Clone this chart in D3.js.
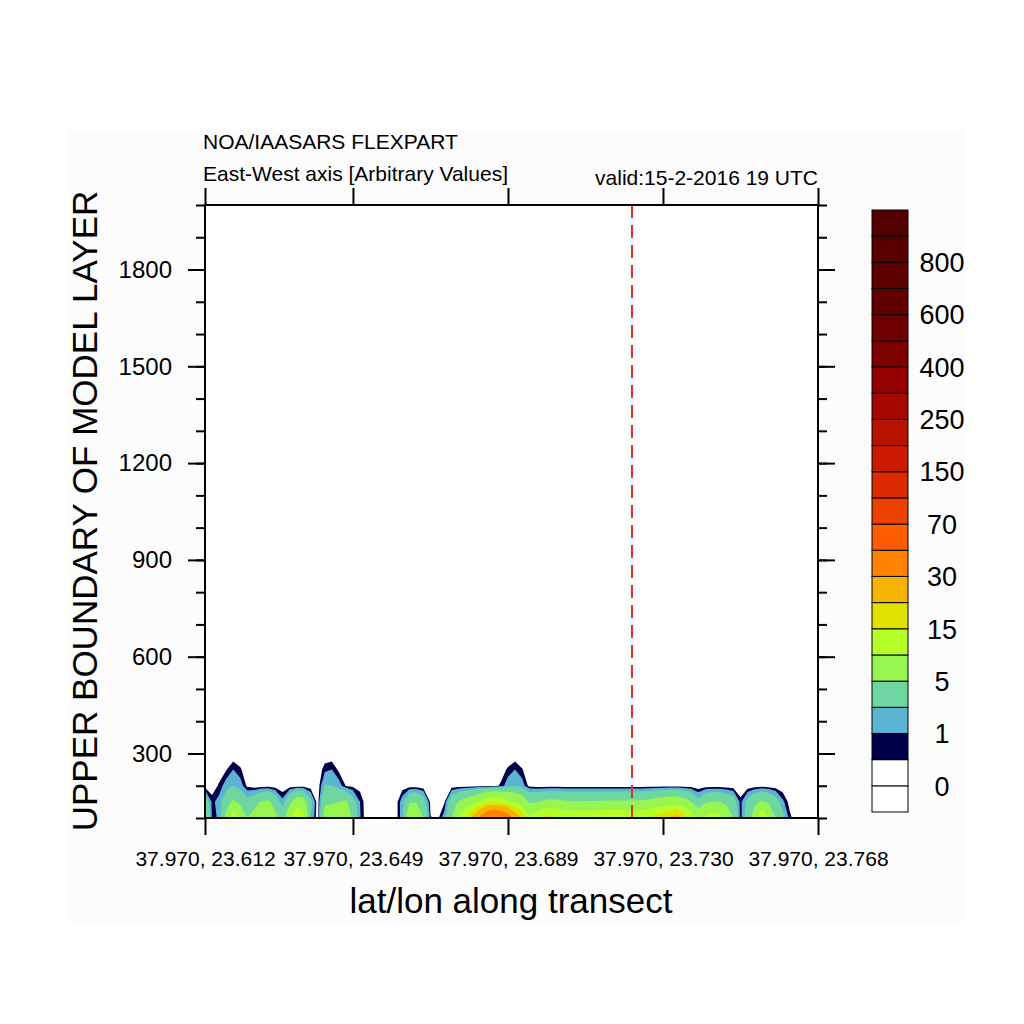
<!DOCTYPE html>
<html>
<head>
<meta charset="utf-8">
<script src="https://cdn.jsdelivr.net/npm/d3@7"></script>
<style>
  body { margin: 0; background: #ffffff; }
  text { font-family: "Liberation Sans", Arial, Helvetica, sans-serif; fill: #000; }
</style>
</head>
<body>
<div class="chart"></div>
<script>
// model layer heights (rows of the grid)
var heights = [100, 150, 200, 250, 300];

// concentration along the transect (88 points), one array per layer
var conc100 = [5, 0.9, 1.05, 6, 13.5, 10, 5, 7, 9, 9.5,
  6, 3.5, 9, 16.3, 12, 2, 0, 7, 8, 8,
  10, 4, 1.1, 0, 0, 0, 0, 0, 1.5, 10,
  10.5, 5, 0.55, 0.3, 1.5, 5, 11, 15, 22, 32,
  42, 48, 44, 38, 26, 20, 11, 13, 16, 17,
  15.5, 14, 13.5, 13.5, 14, 14, 14.5, 14.5, 14.8, 14.8,
  14.5, 14, 14, 15, 17, 19, 21, 23, 18, 13,
  9, 11, 12, 11.5, 9, 5, 0.6, 3, 7, 15.5,
  10, 5, 2.5, 0.7, 0, 0, 0, 0];
var conc150 = [3.5, 0.8, 1.3, 3.5, 5.6, 4, 2.6, 3.5, 5.2, 5.5,
  3.5, 1.3, 4, 7.3, 6.5, 2.5, 0, 4.5, 4.5, 5,
  5.5, 2.8, 1.0, 0, 0, 0, 0, 0, 1.5, 4.5,
  4.8, 3, 0.3, 0, 0.45, 3.5, 5.3, 6.5, 8, 10,
  13, 14, 13, 11, 9, 7.5, 4.6, 4.8, 5.5, 6,
  5.8, 5.5, 5.2, 5.2, 5.3, 5.3, 5.4, 5.5, 5.5, 5.5,
  5.5, 5.5, 5.6, 6, 6.5, 7, 7.5, 7.5, 6.5, 5,
  2.5, 4.5, 5, 5, 4, 3, 0.7, 2.5, 4.2, 5.5,
  4.5, 3, 1.2, 0.2, 0, 0, 0, 0];
var conc200 = [0.1, 0.1, 0.6, 1.4, 2.0, 1.4, 0.35, 0.1, 0.1, 0.15,
  0.05, 0, 0.05, 0.1, 0.1, 0.05, 0, 2.1, 2.0, 1.4,
  0.45, 0.3, 0.2, 0, 0, 0, 0, 0, 0.1, 0.05,
  0.05, 0, 0, 0, 0, 0.05, 0.1, 0.1, 0.15, 0.2,
  0.25, 0.3, 0.6, 1.5, 2.0, 1.4, 0.3, 0.1, 0.1, 0.1,
  0.1, 0.1, 0.1, 0.1, 0.1, 0.1, 0.1, 0.1, 0.1, 0.1,
  0.1, 0.1, 0.1, 0.1, 0.1, 0.15, 0.2, 0.2, 0.15, 0.1,
  0, 0.05, 0.1, 0.1, 0.05, 0.05, 0, 0.05, 0.1, 0.15,
  0.1, 0.05, 0, 0, 0, 0, 0, 0];
var conc250 = [0, 0, 0.1, 0.45, 1.0, 0.6, 0.05, 0, 0, 0,
  0, 0, 0, 0, 0, 0, 0, 0.8, 1.0, 0.35,
  0, 0, 0, 0, 0, 0, 0, 0, 0, 0,
  0, 0, 0, 0, 0, 0, 0, 0, 0, 0,
  0, 0, 0.2, 0.6, 1.0, 0.55, 0.05, 0, 0, 0,
  0, 0, 0, 0, 0, 0, 0, 0, 0, 0,
  0, 0, 0, 0, 0, 0, 0, 0, 0, 0,
  0, 0, 0, 0, 0, 0, 0, 0, 0, 0,
  0, 0, 0, 0, 0, 0, 0, 0];
var conc300 = [0, 0, 0, 0, 0, 0, 0, 0, 0, 0,
  0, 0, 0, 0, 0, 0, 0, 0, 0, 0,
  0, 0, 0, 0, 0, 0, 0, 0, 0, 0,
  0, 0, 0, 0, 0, 0, 0, 0, 0, 0,
  0, 0, 0, 0, 0, 0, 0, 0, 0, 0,
  0, 0, 0, 0, 0, 0, 0, 0, 0, 0,
  0, 0, 0, 0, 0, 0, 0, 0, 0, 0,
  0, 0, 0, 0, 0, 0, 0, 0, 0, 0,
  0, 0, 0, 0, 0, 0, 0, 0];

// contour levels and fill colours (colours[k] = box below levels[k], last = above top)
var levels = [0, 0.5, 1, 2, 5, 10, 15, 20, 30, 50, 70, 100, 150, 200, 250, 300, 400, 500, 600, 700, 800, 900];
var colours = ["#ffffff", "#ffffff", "#00004a", "#5ab4d2", "#6ed6a0", "#96f550", "#b4ff28", "#e1e100",
  "#f5b400", "#ff8200", "#ff5c00", "#ee4000", "#dc2a00", "#cc1a00", "#b81200", "#a60800",
  "#940000", "#7c0000", "#6e0000", "#620000", "#5e0000", "#5a0000", "#550000"];

// x axis: transect point index and lat/lon labels
var tickIndex = [0, 21, 43, 65, 87];
var tickLat = [37.970, 37.970, 37.970, 37.970, 37.970];
var tickLon = [23.612, 23.649, 23.689, 23.730, 23.768];
var markerIndex = 60.6;

var yMajor = [300, 600, 900, 1200, 1500, 1800];
var yMinor = d3.range(100, 2001, 100);

var W = 1024, H = 1024;
var pLeft = 205, pRight = 818, pTop = 205, pBottom = 818;

var svg = d3.select(".chart").append("svg")
  .attr("width", W)
  .attr("height", H);

svg.append("rect").attr("width", W).attr("height", H).attr("fill", "#ffffff");
svg.append("rect")
  .attr("x", 67).attr("y", 130).attr("width", 898).attr("height", 793)
  .attr("fill", "#fcfcfc");
svg.append("rect")
  .attr("x", pLeft).attr("y", pTop).attr("width", pRight - pLeft).attr("height", pBottom - pTop)
  .attr("fill", "#ffffff");

var xScale = d3.scaleLinear().domain([0, 87]).range([pLeft, pRight]);
var yScale = d3.scaleLinear().domain([100, 2000]).range([pBottom, pTop]);
var rowScale = d3.scaleLinear().domain(d3.range(heights.length)).range(heights);

// contour fill
var rows = [conc100, conc150, conc200, conc250, conc300];
var nx = conc100.length, ny = rows.length;
var values = [];
rows.forEach(function(r) { r.forEach(function(v) { values.push(v); }); });

var contours = d3.contours()
  .size([nx, ny])
  .thresholds(levels)(values);

var proj = d3.geoTransform({
  point: function(x, y) {
    this.stream.point(xScale(x - 0.5), yScale(rowScale(y - 0.5)));
  }
});
var path = d3.geoPath(proj);

svg.append("clipPath").attr("id", "plotclip")
  .append("rect")
  .attr("x", pLeft).attr("y", pTop).attr("width", pRight - pLeft).attr("height", pBottom - pTop);

svg.append("g")
  .attr("clip-path", "url(#plotclip)")
  .selectAll("path")
  .data(contours.filter(function(c) { return c.value > 0; }))
  .enter()
  .append("path")
  .attr("d", path)
  .attr("fill", function(c) { return colours[levels.indexOf(c.value) + 1]; })
  .attr("stroke", "none");

// red dashed marker
svg.append("line")
  .attr("x1", xScale(markerIndex)).attr("x2", xScale(markerIndex))
  .attr("y1", pTop).attr("y2", pBottom)
  .attr("stroke", "#dd3322")
  .attr("stroke-width", 2)
  .attr("stroke-dasharray", "13,7");

// axes
function styleAxis(g) {
  g.select(".domain").remove();
  g.selectAll("line").attr("stroke", "#000").attr("stroke-width", 2);
}

svg.append("g")
  .attr("transform", "translate(" + pLeft + ",0)")
  .call(d3.axisLeft(yScale).tickValues(yMinor).tickSize(9).tickSizeOuter(0).tickFormat(""))
  .call(styleAxis);
var yAx = svg.append("g")
  .attr("transform", "translate(" + pLeft + ",0)")
  .call(d3.axisLeft(yScale).tickValues(yMajor).tickSize(17).tickSizeOuter(0).tickPadding(16).tickFormat(d3.format("d")))
  .call(styleAxis);
yAx.selectAll("text")
  .style("font-size", "24px")
  .style("font-family", "Liberation Sans, Arial, sans-serif");

svg.append("g")
  .attr("transform", "translate(" + pRight + ",0)")
  .call(d3.axisRight(yScale).tickValues(yMinor).tickSize(9).tickSizeOuter(0).tickFormat(""))
  .call(styleAxis);
svg.append("g")
  .attr("transform", "translate(" + pRight + ",0)")
  .call(d3.axisRight(yScale).tickValues(yMajor).tickSize(17).tickSizeOuter(0).tickFormat(""))
  .call(styleAxis);

var xAx = svg.append("g")
  .attr("transform", "translate(0," + pBottom + ")")
  .call(d3.axisBottom(xScale).tickValues(tickIndex).tickSize(17).tickSizeOuter(0).tickPadding(16)
    .tickFormat(function(d, i) { return tickLat[i].toFixed(3) + ", " + tickLon[i].toFixed(3); }))
  .call(styleAxis);
xAx.selectAll("text")
  .style("font-size", "21px")
  .style("font-family", "Liberation Sans, Arial, sans-serif");

svg.append("g")
  .attr("transform", "translate(0," + pTop + ")")
  .call(d3.axisTop(xScale).tickValues(tickIndex).tickSize(17).tickSizeOuter(0).tickFormat(""))
  .call(styleAxis);

// frame
svg.append("rect")
  .attr("x", pLeft).attr("y", pTop).attr("width", pRight - pLeft).attr("height", pBottom - pTop)
  .attr("fill", "none").attr("stroke", "#000").attr("stroke-width", 2);

// titles
svg.append("text").attr("x", 203).attr("y", 149).style("font-size", "21px")
  .text("NOA/IAASARS FLEXPART");
svg.append("text").attr("x", 203).attr("y", 181).style("font-size", "21px")
  .text("East-West axis [Arbitrary Values]");
svg.append("text").attr("x", 818).attr("y", 185).attr("text-anchor", "end").style("font-size", "21px")
  .text("valid:15-2-2016 19 UTC");

svg.append("text")
  .attr("x", 511).attr("y", 913)
  .attr("text-anchor", "middle")
  .style("font-size", "35px")
  .text("lat/lon along transect");

svg.append("text")
  .attr("transform", "translate(97,511) rotate(-90)")
  .attr("text-anchor", "middle")
  .style("font-size", "35px")
  .text("UPPER BOUNDARY OF MODEL LAYER");

// label bar
var nBox = colours.length;
var barY = d3.scaleLinear().domain([0, nBox]).range([812, 210]);
var bar = svg.append("g");
bar.selectAll("rect")
  .data(colours)
  .enter()
  .append("rect")
  .attr("x", 872)
  .attr("width", 36)
  .attr("y", function(d, i) { return barY(i + 1); })
  .attr("height", function(d, i) { return barY(i) - barY(i + 1); })
  .attr("fill", function(d) { return d; })
  .attr("stroke", "#000")
  .attr("stroke-width", 1);

bar.selectAll("text")
  .data(levels.filter(function(d, i) { return i % 2 === 0; }))
  .enter()
  .append("text")
  .attr("x", 942)
  .attr("y", function(d) { return barY(levels.indexOf(d) + 1); })
  .attr("dy", "0.36em")
  .attr("text-anchor", "middle")
  .style("font-size", "27px")
  .text(function(d) { return d; });
</script>
</body>
</html>
